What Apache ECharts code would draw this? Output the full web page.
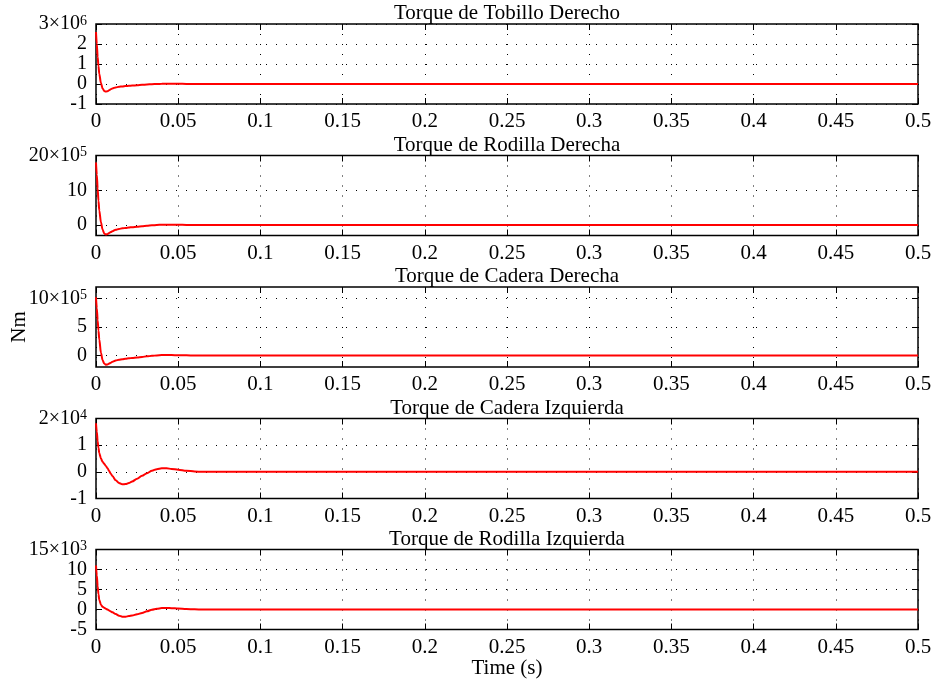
<!DOCTYPE html>
<html>
<head>
<meta charset="utf-8">
<script src="https://cdn.jsdelivr.net/npm/echarts@6/dist/echarts.min.js"></script>
<style>
  html, body { margin: 0; padding: 0; background: #fff; }
  #chart { width: 934px; height: 684px; }
</style>
</head>
<body>
<div id="chart"></div>
<script>
// Tiempo de simulación (s)
const tiempo = [0, 0.0005, 0.001, 0.0015, 0.002, 0.003, 0.004, 0.005, 0.006, 0.007,
  0.008, 0.009, 0.01, 0.012, 0.014, 0.016, 0.018, 0.02, 0.022, 0.025,
  0.028, 0.031, 0.034, 0.037, 0.04, 0.043, 0.046, 0.05, 0.055, 0.06,
  0.065, 0.07, 0.08, 0.1, 0.2, 0.3, 0.4, 0.5];

// Torques, en unidades de 10^exponente Nm
const tobilloDerecho = [2.6, 2.0, 1.35, 0.9, 0.5, 0.05, -0.22, -0.35, -0.38, -0.36,
  -0.31, -0.26, -0.22, -0.17, -0.14, -0.12, -0.1, -0.09, -0.08, -0.06,
  -0.04, -0.025, -0.01, 0.0, 0.01, 0.012, 0.012, 0.01, 0.006, 0.003,
  0.001, 0, 0, 0, 0, 0, 0, 0];
const rodillaDerecha = [18, 14.5, 10.5, 7, 4.2, 0.8, -1.3, -2.4, -2.7, -2.6,
  -2.3, -2.0, -1.75, -1.35, -1.1, -0.95, -0.82, -0.7, -0.6, -0.45,
  -0.32, -0.2, -0.08, 0.03, 0.1, 0.12, 0.11, 0.08, 0.05, 0.02,
  0.01, 0, 0, 0, 0, 0, 0, 0];
const caderaDerecha = [10.2, 8.3, 6.2, 4.4, 2.8, 0.5, -0.8, -1.4, -1.6, -1.55,
  -1.4, -1.25, -1.1, -0.88, -0.73, -0.63, -0.55, -0.48, -0.41, -0.32,
  -0.23, -0.14, -0.05, 0.03, 0.08, 0.09, 0.08, 0.06, 0.035, 0.015,
  0.005, 0, 0, 0, 0, 0, 0, 0];
const caderaIzquierda = [1.82, 1.5, 1.15, 0.9, 0.7, 0.5, 0.38, 0.3, 0.22, 0.13,
  0.03, -0.07, -0.16, -0.32, -0.42, -0.47, -0.46, -0.42, -0.36, -0.26,
  -0.15, -0.05, 0.04, 0.1, 0.13, 0.13, 0.11, 0.08, 0.04, 0.015,
  0.0, 0, 0, 0, 0, 0, 0, 0];
const rodillaIzquierda = [11, 8.5, 5.8, 3.8, 2.4, 1.2, 0.7, 0.45, 0.2, 0.0,
  -0.25, -0.48, -0.7, -1.15, -1.55, -1.8, -1.8, -1.65, -1.5, -1.2,
  -0.85, -0.45, -0.05, 0.2, 0.35, 0.38, 0.34, 0.25, 0.12, 0.05,
  0.0, 0, 0, 0, 0, 0, 0, 0];

const titulos = ['Torque de Tobillo Derecho', 'Torque de Rodilla Derecha',
  'Torque de Cadera Derecha', 'Torque de Cadera Izquierda', 'Torque de Rodilla Izquierda'];
const series = [tobilloDerecho, rodillaDerecha, caderaDerecha, caderaIzquierda, rodillaIzquierda];
const exponentes = [6, 5, 5, 4, 3];
const yMin = [-1, -3, -2, -1, -5];
const yMax = [3, 20, 12, 2, 15];
const yTicks = [[-1, 0, 1, 2, 3], [0, 10, 20], [0, 5, 10], [-1, 0, 1, 2], [-5, 0, 5, 10, 15]];
const xMin = 0, xMax = 0.5, xPaso = 0.05;

const FONT = '"Liberation Serif", "Times New Roman", serif';
const gridTops = [24, 155.5, 287, 418.5, 549.5];
const gridHeight = 80;

const chart = echarts.init(document.getElementById('chart'), null, { renderer: 'canvas' });

const grids = [], xAxes = [], yAxes = [], seriesList = [];
const gridLine = { show: true, interval: 0, lineStyle: { color: '#000', width: 1, type: [1, 9] } };
const tickStyle = { inside: true, interval: 0, length: 6, lineStyle: { color: '#000', width: 1 } };
const textBase = { fontFamily: FONT, fontSize: 21, color: '#000' };
const yText = { fontFamily: FONT, fontSize: 20, color: '#000' };
const labelAll = { interval: 0, showMinLabel: true, showMaxLabel: true, hideOverlap: false };

series.forEach((vals, i) => {
  grids.push({
    left: 96, right: 16, top: gridTops[i], height: gridHeight,
    outerBoundsMode: 'none', containLabel: false,
    show: true, borderColor: '#000', borderWidth: 1.5, backgroundColor: 'transparent'
  });
  // eje inferior: etiquetas de tiempo y rejilla vertical
  xAxes.push({
    gridIndex: i, type: 'value', position: 'bottom',
    min: xMin, max: xMax, interval: xPaso,
    axisLine: { show: false, onZero: false },
    axisTick: tickStyle,
    axisLabel: Object.assign({ margin: 7 }, labelAll, textBase),
    splitLine: gridLine,
    name: i === series.length - 1 ? 'Time (s)' : '',
    nameLocation: 'middle', nameGap: 28, nameMoveOverlap: false,
    nameTextStyle: textBase
  });
  // eje superior: sólo marcas y título de la subgráfica
  xAxes.push({
    gridIndex: i, type: 'value', position: 'top',
    min: xMin, max: xMax, interval: xPaso,
    axisLine: { show: false, onZero: false },
    axisTick: tickStyle,
    axisLabel: { show: false },
    splitLine: { show: false },
    name: titulos[i], nameLocation: 'middle', nameGap: 0, nameMoveOverlap: false,
    nameTextStyle: textBase
  });
  const top = yTicks[i][yTicks[i].length - 1];
  const exp = exponentes[i];
  yAxes.push({
    gridIndex: i, type: 'value', position: 'left',
    min: yMin[i], max: yMax[i],
    axisLine: { show: false, onZero: false },
    axisTick: Object.assign({ customValues: yTicks[i] }, tickStyle),
    axisLabel: Object.assign({
      margin: 9,
      customValues: yTicks[i],
      formatter: v => v === top ? '{m|' + v + '×10}{s|' + exp + '}' : String(v),
      rich: {
        m: { fontFamily: FONT, fontSize: 20, color: '#000' },
        s: { fontFamily: FONT, fontSize: 14, color: '#000', verticalAlign: 'top' }
      }
    }, labelAll, yText),
    splitLine: Object.assign({ customValues: yTicks[i] }, gridLine),
    name: i === 2 ? 'Nm' : '',
    nameLocation: 'middle', nameGap: 66, nameMoveOverlap: false,
    nameTextStyle: textBase
  });
  yAxes.push({
    gridIndex: i, type: 'value', position: 'right',
    min: yMin[i], max: yMax[i],
    axisLine: { show: false, onZero: false },
    axisTick: Object.assign({ customValues: yTicks[i] }, tickStyle),
    axisLabel: { show: false, customValues: yTicks[i] },
    splitLine: { show: false }
  });
  seriesList.push({
    type: 'line',
    xAxisIndex: 2 * i, yAxisIndex: 2 * i,
    data: tiempo.map((t, k) => [t, vals[k]]),
    showSymbol: false, symbol: 'none',
    smooth: 0.3, smoothMonotone: 'x',
    lineStyle: { color: '#ff0000', width: 2 },
    animation: false, z: 5
  });
});

chart.setOption({
  animation: false,
  backgroundColor: '#fff',
  grid: grids,
  xAxis: xAxes,
  yAxis: yAxes,
  series: seriesList
});
</script>
</body>
</html>
